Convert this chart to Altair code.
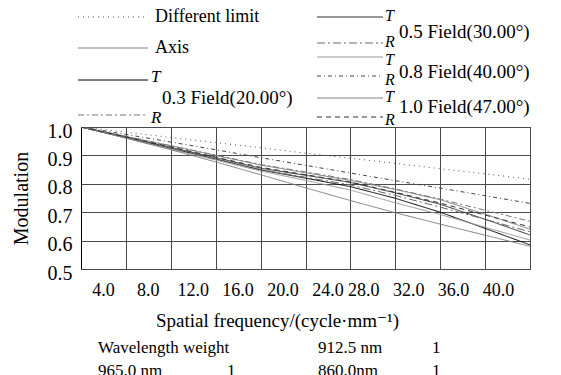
import altair as alt
import pandas as pd

FONT = "'Liberation Serif', 'Times New Roman', Times, 'DejaVu Serif', serif"

# ---------------- data ----------------
freq = [0, 4, 8, 12, 16, 20, 24, 28, 32, 36, 40]
series_names = ["Diffraction", "Axis", "0.3T", "0.3R", "0.5T", "0.5R", "0.8T", "0.8R", "1.0T", "1.0R"]
diff_limit = [1.000, 0.982, 0.963, 0.945, 0.927, 0.908, 0.890, 0.872, 0.853, 0.835, 0.816]
axis_mtf = [1.000, 0.967, 0.934, 0.900, 0.866, 0.839, 0.812, 0.780, 0.744, 0.693, 0.640]
t03 = [1.000, 0.962, 0.925, 0.887, 0.849, 0.820, 0.790, 0.749, 0.700, 0.643, 0.585]
r03 = [1.000, 0.967, 0.934, 0.901, 0.868, 0.842, 0.815, 0.782, 0.746, 0.707, 0.668]
t05 = [1.000, 0.964, 0.928, 0.892, 0.855, 0.830, 0.805, 0.768, 0.728, 0.675, 0.620]
r05 = [1.000, 0.963, 0.926, 0.888, 0.850, 0.823, 0.796, 0.759, 0.718, 0.675, 0.631]
t08 = [1.000, 0.961, 0.922, 0.884, 0.845, 0.812, 0.778, 0.733, 0.692, 0.647, 0.602]
r08 = [1.000, 0.974, 0.947, 0.920, 0.892, 0.865, 0.838, 0.811, 0.785, 0.758, 0.731]
t10 = [1.000, 0.961, 0.920, 0.877, 0.832, 0.786, 0.741, 0.698, 0.658, 0.619, 0.580]
r10 = [1.000, 0.965, 0.930, 0.894, 0.858, 0.832, 0.806, 0.770, 0.732, 0.690, 0.648]
all_values = [diff_limit, axis_mtf, t03, r03, t05, r05, t08, r08, t10, r10]

x_tick_values = [4, 8, 12, 16, 20, 24, 28, 32, 36, 40]
y_tick_values = [0.5, 0.6, 0.7, 0.8, 0.9, 1.0]

# styles
colors = ["#555555", "#808080", "#000000", "#777777", "#333333", "#666666", "#999999", "#444444", "#808080", "#333333"]
dashes = [[1, 4], [1, 0], [1, 0], [6, 3, 2, 3], [1, 0], [8, 3, 2, 3], [1, 0], [4, 3, 1, 3], [1, 0], [5, 4]]

rows = []
for name, vals in zip(series_names, all_values):
    for f, v in zip(freq, vals):
        rows.append({"series": name, "freq": f, "mtf": v})
df = pd.DataFrame(rows)

x_scale = alt.Scale(domain=[0, 40], nice=False, zero=False)
y_scale = alt.Scale(domain=[0.5, 1.0], nice=False, zero=False)

lines = alt.Chart(df).mark_line(strokeWidth=1, clip=True).encode(
    x=alt.X("freq:Q", scale=x_scale, axis=alt.Axis(
        values=x_tick_values, format=".1f", title="Spatial frequency/(cycle·mm⁻¹)",
        labelFont=FONT, labelFontSize=18, labelColor="black", labelAlign="center",
        labelOffset={"condition": {"test": "datum.value >= 28", "value": -32}, "value": -23},
        labelPadding=12, labelBaseline="top", labelFlush=False, labelOverlap=False,
        tickSize=0, domain=False, grid=True, gridColor="#4a4a4a", gridWidth=1,
        titleFont=FONT, titleFontSize=19, titleFontWeight="normal", titleColor="black",
        titleX=196, titleY=51, titleBaseline="middle", titleAlign="center")),
    y=alt.Y("mtf:Q", scale=y_scale, axis=alt.Axis(
        values=y_tick_values, format=".1f", title="Modulation",
        labelFont=FONT, labelFontSize=20, labelColor="black", labelAlign="right",
        labelBaseline="middle", labelOffset=4, labelPadding=9, labelFlush=False, labelOverlap=False,
        tickSize=0, domain=False, grid=True, gridColor="#4a4a4a", gridWidth=1,
        titleFont=FONT, titleFontSize=20, titleFontWeight="normal", titleColor="black",
        titleX=-60, titleY=71, titleAngle=270, titleBaseline="middle", titleAlign="center")),
    color=alt.Color("series:N", scale=alt.Scale(domain=series_names, range=colors), legend=None),
    strokeDash=alt.StrokeDash("series:N", scale=alt.Scale(domain=series_names, range=dashes), legend=None),
    detail="series:N",
)

one = alt.Data(values=[{"k": 1}])
layers = [lines]


def seg(x1, x2, y, color, dash):
    return alt.Chart(one).mark_rule(color=color, strokeWidth=1, strokeDash=dash).encode(
        x=alt.value(x1), x2=alt.value(x2), y=alt.value(y))


def txt(s, x, y, size=18, italic=False):
    return alt.Chart(one).mark_text(
        text=s, align="left", baseline="middle", font=FONT, fontSize=size,
        fontStyle="italic" if italic else "normal", color="black").encode(
        x=alt.value(x), y=alt.value(y))


# legend, left column
layers += [
    seg(-3, 67, -110, colors[0], [1, 4]), txt("Different limit", 74, -110),
    seg(-3, 67, -79, colors[1], [1, 0]), txt("Axis", 74, -79),
    seg(-3, 67, -47, colors[2], [1, 0]), txt("T", 70, -50, 17, italic=True),
    txt("0.3 Field(20.00°)", 81, -29, 19),
    seg(-3, 67, -12, colors[3], dashes[3]), txt("R", 70, -9, 17, italic=True),
]
# legend, right column: (T line y, T text y, R line y, R text y, field text y)
for (ty, tty, ry, rty, fy, label, ti, ri) in [
    (-110, -111, -84, -85, -95, "0.5 Field(30.00°)", 4, 5),
    (-70, -67, -51, -47, -55, "0.8 Field(40.00°)", 6, 7),
    (-29, -30, -10, -7, -20, "1.0 Field(47.00°)", 8, 9),
]:
    layers += [
        seg(236, 302, ty, colors[ti], [1, 0]), txt("T", 304, tty, 16, italic=True),
        seg(236, 302, ry, colors[ri], dashes[ri]), txt("R", 304, rty, 16, italic=True),
        txt(label, 318, fy, 19),
    ]

# wavelength weight table below
layers += [
    txt("Wavelength weight", 17, 221, 17), txt("912.5 nm", 237, 221, 17), txt("1", 351, 221, 17),
    txt("965.0 nm", 17, 244, 17), txt("1", 146, 244, 17), txt("860.0nm", 237, 244, 17), txt("1", 351, 244, 17),
]

chart = alt.layer(*layers).properties(
    width=449, height=142,
    padding={"left": 73, "top": 119, "right": 15, "bottom": 120},
    autosize=alt.AutoSizeParams(type="none"),
    background="white",
).configure_view(stroke="black", strokeWidth=1)

chart.save("out.html", embed_options={"renderer": "svg", "actions": False})
